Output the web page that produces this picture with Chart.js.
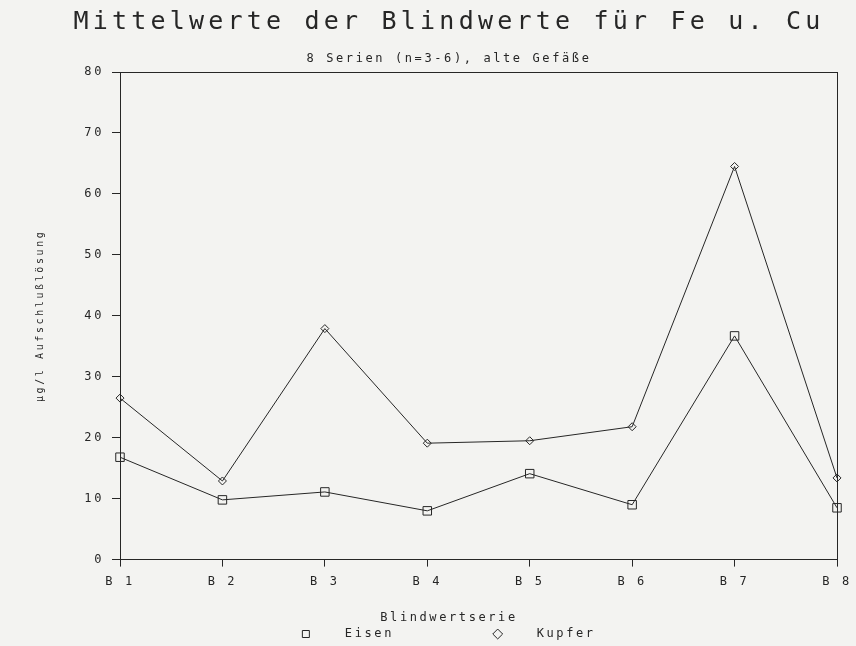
<!DOCTYPE html>
<html>
<head>
<meta charset="utf-8">
<script src="https://cdn.jsdelivr.net/npm/chart.js@4/dist/chart.umd.min.js"></script>
<style>
  html, body { margin: 0; padding: 0; background: #f3f3f1; }
  #wrap { width: 856px; height: 646px; }
  canvas { display: block; }
</style>
</head>
<body>
<div id="wrap"><canvas id="chart" width="856" height="646"></canvas></div>
<script>
// Texts
const chartTitle = 'Mittelwerte der Blindwerte für Fe u. Cu';
const chartSubtitle = '8 Serien (n=3-6), alte Gefäße';
const xAxisTitle = 'Blindwertserie';
const yAxisTitle = 'µg/l Aufschlußlösung';

// Blank-value series B 1 ... B 8
const categories = ['B 1', 'B 2', 'B 3', 'B 4', 'B 5', 'B 6', 'B 7', 'B 8'];
const seriesNames = ['Eisen', 'Kupfer'];
const eisen = [16.8, 9.8, 11.1, 8.0, 14.1, 9.0, 36.7, 8.5];
const kupfer = [26.5, 12.9, 37.9, 19.1, 19.5, 21.8, 64.5, 13.4];

// Value axis range
const yMin = 0;
const yMax = 80;
const yStep = 10;

const INK = '#262626';
const FONT = "'DejaVu Sans Mono', 'Liberation Mono', monospace";

Chart.defaults.font.family = FONT;
Chart.defaults.color = INK;

// Wide, plotter-like lettering: every text gets some tracking, the headline more.
const plotterLettering = {
  id: 'plotterLettering',
  beforeUpdate(chart) { chart.ctx.letterSpacing = '2.6px'; },
  beforeDraw(chart) { chart.ctx.letterSpacing = '2.6px'; },
  afterLayout(chart) {
    const block = chart.titleBlock;
    if (block && !block._wideLetters) {
      const drawTitle = block.draw;
      block.draw = function (...args) {
        const c = this.ctx;
        const prev = c.letterSpacing;
        c.letterSpacing = '4.2px';
        drawTitle.apply(this, args);
        c.letterSpacing = prev;
      };
      block._wideLetters = true;
    }
  }
};

const legendLead = '   ';
const legendGap = '          ';

new Chart(document.getElementById('chart'), {
  type: 'line',
  data: {
    labels: categories,
    datasets: [
      {
        label: seriesNames[0],
        data: eisen,
        borderColor: INK,
        backgroundColor: 'transparent',
        borderWidth: 1,
        pointStyle: 'rect',
        pointRadius: 6,
        pointBorderWidth: 1,
        pointBorderColor: INK,
        pointBackgroundColor: 'transparent',
        tension: 0,
        fill: false,
        clip: false
      },
      {
        label: seriesNames[1],
        data: kupfer,
        borderColor: INK,
        backgroundColor: 'transparent',
        borderWidth: 1,
        pointStyle: 'rectRot',
        pointRadius: 4,
        pointBorderWidth: 1,
        pointBorderColor: INK,
        pointBackgroundColor: 'transparent',
        tension: 0,
        fill: false,
        clip: false
      }
    ]
  },
  options: {
    responsive: false,
    animation: false,
    devicePixelRatio: 1,
    events: [],
    layout: { padding: { left: 42, right: 0, top: 0, bottom: -4 } },
    scales: {
      x: {
        type: 'category',
        position: 'bottom',
        offset: false,
        grid: { display: true, drawOnChartArea: false, drawTicks: true, tickLength: 7, color: INK, lineWidth: 1 },
        border: { display: true, color: INK, width: 1 },
        ticks: { color: INK, font: { family: FONT, size: 12 }, padding: 8, maxRotation: 0, autoSkip: false },
        afterFit(scale) { scale.paddingLeft = 0; scale.paddingRight = 0; scale.height = 30; }
      },
      x2: {
        type: 'linear',
        axis: 'x',
        position: 'top',
        min: 0,
        max: 1,
        ticks: { display: false },
        grid: { display: false, drawTicks: false },
        border: { display: true, color: INK, width: 1 },
        afterFit(scale) { scale.height = 0; scale.paddingLeft = 0; scale.paddingRight = 0; }
      },
      y: {
        type: 'linear',
        position: 'left',
        min: yMin,
        max: yMax,
        grid: { display: true, drawOnChartArea: false, drawTicks: true, tickLength: 8, color: INK, lineWidth: 1 },
        border: { display: true, color: INK, width: 1 },
        ticks: { stepSize: yStep, color: INK, font: { family: FONT, size: 12 }, padding: 8 },
        title: {
          display: true,
          text: yAxisTitle,
          color: INK,
          font: { family: FONT, size: 10 },
          padding: { top: -8, bottom: 0 }
        },
        afterFit(scale) { scale.width = 78; }
      },
      y2: {
        type: 'linear',
        axis: 'y',
        position: 'right',
        min: 0,
        max: 1,
        ticks: { display: false },
        grid: { display: false, drawTicks: false },
        border: { display: true, color: INK, width: 1 },
        afterFit(scale) { scale.width = 19; }
      }
    },
    plugins: {
      title: {
        display: true,
        text: chartTitle,
        color: INK,
        font: { family: FONT, size: 25, weight: 'normal', lineHeight: 1 },
        padding: { top: 10, bottom: 8 }
      },
      subtitle: {
        display: true,
        text: chartSubtitle,
        color: INK,
        font: { family: FONT, size: 12, weight: 'normal', lineHeight: 1 },
        padding: { top: 10, bottom: 7 }
      },
      legend: {
        display: true,
        position: 'bottom',
        align: 'center',
        title: {
          display: true,
          text: xAxisTitle,
          color: INK,
          font: { family: FONT, size: 12 },
          padding: { top: 22, bottom: 0 }
        },
        labels: {
          usePointStyle: true,
          boxWidth: 7,
          boxHeight: 7,
          padding: 2,
          color: INK,
          font: { family: FONT, size: 12 },
          generateLabels(chart) {
            const items = Chart.defaults.plugins.legend.labels.generateLabels(chart);
            items.forEach((item, i) => {
              item.text = legendLead + item.text + (i < items.length - 1 ? legendGap : '');
            });
            return items;
          }
        }
      },
      tooltip: { enabled: false }
    }
  },
  plugins: [plotterLettering]
});
</script>
</body>
</html>
